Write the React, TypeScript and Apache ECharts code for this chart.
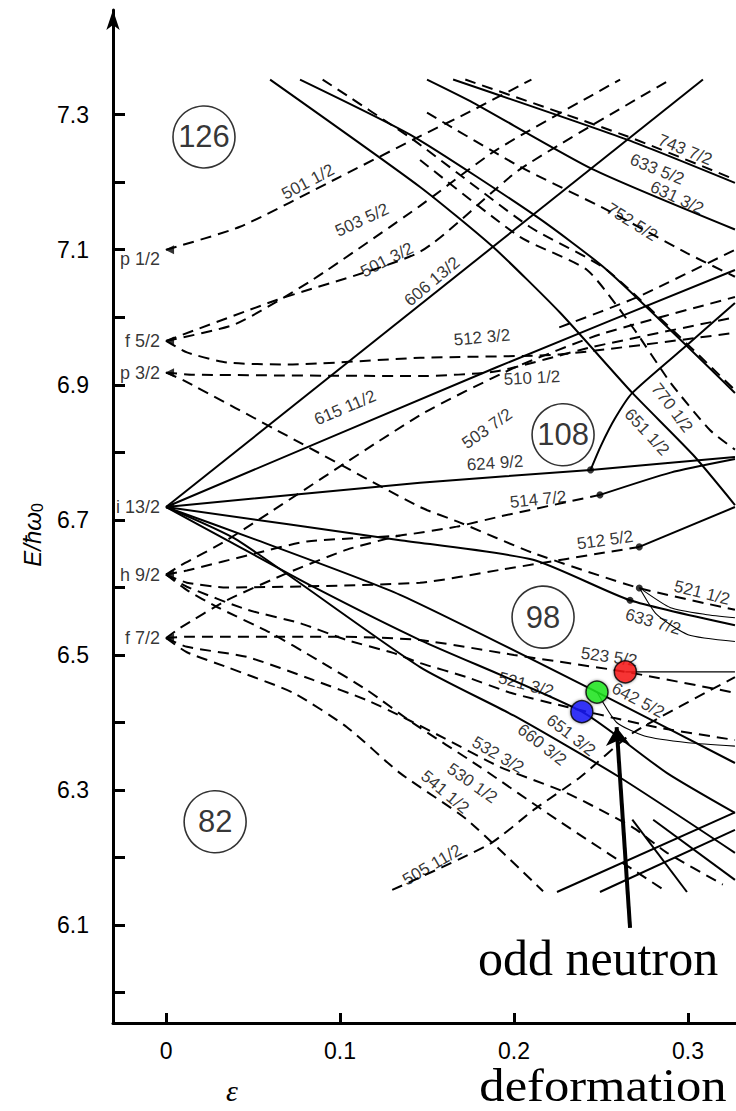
import React, { useEffect, useRef } from "react";
import * as echarts from "echarts";

// ---- axis ticks ----
const xTicks = [0, 0.1, 0.2, 0.3];
const yTicks = [6.0, 6.1, 6.2, 6.3, 6.4, 6.5, 6.6, 6.7, 6.8, 6.9, 7.0, 7.1, 7.2, 7.3];
const yLabels = [6.1, 6.3, 6.5, 6.7, 6.9, 7.1, 7.3];

// ---- spherical states at epsilon = 0 ----
const sphNames = ["p 1/2", "f 5/2", "p 3/2", "i 13/2", "h 9/2", "f 7/2"];
const sphE = [7.1, 6.965, 6.918, 6.719, 6.619, 6.525];

// ---- Nilsson levels: dashed (negative parity) ----
const d501_1 = [[0, 7.1], [0.0425, 7.134], [0.1, 7.208], [0.142, 7.263], [0.175, 7.305], [0.21, 7.352]];
const d503_5 = [[0, 6.965], [0.04, 6.99], [0.0845, 7.056], [0.146, 7.165], [0.19, 7.248], [0.261, 7.352]];
const d501_3 = [[0, 6.965], [0.064, 7.026], [0.146, 7.097], [0.2034, 7.219], [0.29, 7.352]];
const d512_3 = [[0, 6.965], [0.012, 6.948], [0.035, 6.933], [0.07, 6.93], [0.146, 6.94], [0.226, 6.945], [0.327, 6.977]];
const d510_1 = [[0, 6.918], [0.0155, 6.915], [0.146, 6.913], [0.19, 6.92], [0.245, 6.956], [0.327, 7.0]];
const d521_1 = [[0, 6.918], [0.0098, 6.907], [0.07, 6.824], [0.146, 6.719], [0.169, 6.696], [0.211, 6.651], [0.272, 6.599], [0.327, 6.567]];
const d503_7 = [[0, 6.619], [0.008, 6.632], [0.035, 6.67], [0.146, 6.855], [0.2, 6.925], [0.25, 6.975], [0.327, 7.03]];
const d514_7 = [[0, 6.619], [0.012, 6.625], [0.0523, 6.651], [0.081, 6.668], [0.1345, 6.677], [0.167, 6.69], [0.192, 6.705], [0.2494, 6.737]];
const dF7up = [[0, 6.525], [0.008, 6.54], [0.035, 6.581], [0.0695, 6.621], [0.104, 6.656], [0.1345, 6.677]];
const d512_5 = [[0, 6.619], [0.012, 6.607], [0.035, 6.6], [0.146, 6.607], [0.192, 6.626], [0.272, 6.66]];
const d523_5 = [[0, 6.525], [0.012, 6.527], [0.1, 6.527], [0.146, 6.522], [0.2, 6.5], [0.264, 6.475], [0.327, 6.444]];
const d521_3 = [[0, 6.619], [0.012, 6.601], [0.0466, 6.567], [0.077, 6.547], [0.104, 6.522], [0.1305, 6.503], [0.146, 6.488], [0.173, 6.467], [0.198, 6.444], [0.2305, 6.423], [0.257, 6.407], [0.284, 6.392], [0.327, 6.374]];
const d532_3 = [[0, 6.525], [0.012, 6.512], [0.0466, 6.497], [0.0845, 6.463], [0.1155, 6.433], [0.1345, 6.41], [0.159, 6.378], [0.192, 6.334], [0.23, 6.296], [0.268, 6.245], [0.288, 6.207], [0.32, 6.16]];
const d530_1 = [[0, 6.619], [0.012, 6.596], [0.0293, 6.571], [0.0598, 6.533], [0.0868, 6.493], [0.1155, 6.448], [0.142, 6.399], [0.18, 6.335], [0.2247, 6.256], [0.288, 6.149]];
const d541_1 = [[0, 6.525], [0.012, 6.504], [0.035, 6.482], [0.073, 6.444], [0.104, 6.393], [0.1345, 6.325], [0.173, 6.256], [0.2167, 6.15]];
const d505_11 = [[0.13, 6.152], [0.186, 6.22], [0.211, 6.27], [0.238, 6.319], [0.268, 6.384], [0.327, 6.467]];
const d770_1 = [[0.146, 7.233], [0.2034, 7.119], [0.242, 7.07], [0.268, 6.986], [0.29, 6.903], [0.3126, 6.833], [0.327, 6.804]];
const d752_5 = [[0.15, 7.303], [0.2034, 7.223], [0.2534, 7.159], [0.2994, 7.095], [0.327, 7.06]];
const d743_7 = [[0.172, 7.352], [0.265, 7.268], [0.327, 7.204]];
const dTop = [[0.09, 7.352], [0.142, 7.263], [0.209, 7.134], [0.2534, 7.07], [0.327, 6.892]];
const dUpper = [[0.226, 6.985], [0.271, 7.03], [0.327, 7.1]];

// ---- Nilsson levels: solid (positive parity) ----
const s606_13 = [[0, 6.719], [0.3086, 7.352]];
const s615_11 = [[0, 6.719], [0.19, 6.926], [0.327, 7.07]];
const s624_9 = [[0, 6.719], [0.146, 6.755], [0.244, 6.774], [0.327, 6.793]];
const s633_7 = [[0, 6.719], [0.1345, 6.67], [0.211, 6.641], [0.2667, 6.581], [0.327, 6.544]];
const s642_5 = [[0, 6.719], [0.0523, 6.67], [0.1345, 6.589], [0.2477, 6.445], [0.327, 6.34]];
const s651_3 = [[0, 6.719], [0.035, 6.67], [0.0845, 6.601], [0.146, 6.522], [0.239, 6.416], [0.288, 6.325], [0.327, 6.266]];
const s660_3 = [[0, 6.719], [0.041, 6.67], [0.146, 6.482], [0.2, 6.41], [0.26, 6.32], [0.327, 6.207]];
const s651_1 = [[0.0598, 7.352], [0.146, 7.193], [0.188, 7.104], [0.2264, 7.007], [0.268, 6.888], [0.303, 6.796], [0.327, 6.722]];
const sTop = [[0.077, 7.352], [0.142, 7.268], [0.213, 7.149], [0.2534, 7.07], [0.327, 6.888]];
const s631_3 = [[0.15, 7.352], [0.1764, 7.318], [0.2454, 7.219], [0.327, 7.13]];
const s633_5 = [[0.165, 7.352], [0.265, 7.263], [0.327, 7.199]];
const s514cont = [[0.2494, 6.737], [0.29, 6.77], [0.327, 6.79]];
const s512cont = [[0.272, 6.66], [0.327, 6.719]];
const s624curve = [[0.244, 6.774], [0.25, 6.81], [0.258, 6.85], [0.268, 6.888], [0.3, 6.96], [0.327, 7.021]];
const sUpA = [[0.2247, 6.149], [0.327, 6.267]];
const sUpB = [[0.2494, 6.149], [0.327, 6.241]];
const sDownC = [[0.268, 6.256], [0.2994, 6.149]];
const sDownD = [[0.28, 6.256], [0.327, 6.167]];
// thin interaction curves
const tRed = [[0.264, 6.475], [0.327, 6.475]];
const tGreen = [[0.2477, 6.445], [0.259, 6.4], [0.275, 6.38], [0.3, 6.37], [0.327, 6.365]];
const tC1 = [[0.272, 6.6], [0.282, 6.56], [0.3, 6.53], [0.327, 6.52]];
const tC2 = [[0.274, 6.596], [0.29, 6.57], [0.31, 6.56], [0.327, 6.555]];

const dashedLevels = [d501_1, d503_5, d501_3, d512_3, d510_1, d521_1, d503_7, d514_7, dF7up, d512_5, d523_5, d521_3, d532_3, d530_1, d541_1, d505_11, d770_1, d752_5, d743_7, dTop, dUpper];
const solidLevels = [s606_13, s615_11, s624_9, s633_7, s642_5, s651_3, s660_3, s651_1, sTop, s631_3, s633_5, s514cont, s512cont, s624curve, sUpA, sUpB, sDownC, sDownD];
const thinLevels = [tRed, tGreen, tC1, tC2];

// ---- level labels ----
const lvlNames = ["501 1/2", "503 5/2", "501 3/2", "606 13/2", "615 11/2", "512 3/2", "510 1/2", "503 7/2", "624 9/2", "514 7/2", "770 1/2", "651 1/2", "512 5/2", "521 1/2", "633 7/2", "523 5/2", "521 3/2", "642 5/2", "651 3/2", "660 3/2", "532 3/2", "530 1/2", "541 1/2", "505 11/2", "743 7/2", "633 5/2", "631 3/2", "752 5/2"];
const lvlEps = [0.0816, 0.1126, 0.127, 0.1529, 0.1029, 0.1816, 0.2103, 0.1845, 0.1891, 0.2138, 0.2908, 0.2764, 0.2523, 0.308, 0.2799, 0.2546, 0.2069, 0.2713, 0.2328, 0.2161, 0.1908, 0.1759, 0.1603, 0.1529, 0.2983, 0.2822, 0.2937, 0.2678];
const lvlE = [7.2007, 7.144, 7.085, 7.053, 6.866, 6.97, 6.91, 6.835, 6.784, 6.73, 6.866, 6.83, 6.67, 6.592, 6.549, 6.497, 6.456, 6.433, 6.381, 6.367, 6.352, 6.31, 6.297, 6.189, 7.248, 7.219, 7.177, 7.141];
const lvlRot = [28, 25, 27, 40, 23, 5, 3, 35, 4, 6, -53, -47, 8, -14, -16, -8, -15, -28, -38, -38, -30, -35, -40, 30, -22, -22, -25, -32];

// ---- shell gaps ----
const magicNum = ["126", "108", "98", "82"];
const magicEps = [0.0218, 0.2282, 0.2167, 0.0282];
const magicE = [7.267, 6.826, 6.556, 6.253];

// ---- crossing dots ----
const dotEps = [0.244, 0.2494, 0.272, 0.2667, 0.272];
const dotE = [6.774, 6.737, 6.66, 6.581, 6.599];

// ---- odd neutron states ----
const oddEps = [0.264, 0.2477, 0.239];
const oddE = [6.475, 6.445, 6.416];
const oddColors = ["#ff1a1a", "#22ee22", "#1a1aff"];

// ---- arrow ----
const arrowFrom = [0.2667, 6.096];
const arrowTo = [0.259, 6.393];

const INK = "#000";
const SANS = "'Liberation Sans', Arial, sans-serif";
const SERIF = "'Liberation Serif', 'Times New Roman', serif";

function lineSeries(pts: number[][], kind: "dashed" | "solid" | "thin") {
  return {
    type: "line",
    data: pts,
    showSymbol: false,
    symbol: "none",
    smooth: 0.2,
    silent: true,
    z: 2,
    lineStyle: {
      color: INK,
      width: kind === "thin" ? 1.1 : 2,
      type: kind === "dashed" ? [11, 7] : "solid",
    },
  };
}

const plainLabel = { color: INK, textBorderWidth: 0, textBorderColor: "transparent", textShadowBlur: 0 };

export default function App() {
  const ref = useRef<HTMLDivElement>(null);
  useEffect(() => {
    if (!ref.current) return;
    const chart = echarts.init(ref.current, null, { renderer: "svg" });
    const series: any[] = [];
    dashedLevels.forEach((p) => series.push(lineSeries(p, "dashed")));
    solidLevels.forEach((p) => series.push(lineSeries(p, "solid")));
    thinLevels.forEach((p) => series.push(lineSeries(p, "thin")));

    // spherical origins with arrowheads + labels
    series.push({
      type: "scatter",
      symbol: "triangle",
      symbolRotate: 90,
      symbolSize: 9,
      itemStyle: { color: INK },
      z: 4,
      data: sphE.map((e, i) => ({
        value: [0.002, e],
        label: {
          show: true,
          position: "left",
          distance: 5,
          formatter: sphNames[i],
          fontSize: 18,
          fontFamily: SANS,
          ...plainLabel,
          offset: [0, i === 0 ? 9 : 0],
        },
      })),
    });

    // level labels
    series.push({
      type: "scatter",
      symbolSize: 0,
      silent: true,
      z: 5,
      itemStyle: { color: INK },
      data: lvlNames.map((n, i) => ({
        value: [lvlEps[i], lvlE[i]],
        label: {
          show: true,
          position: "inside",
          formatter: n,
          rotate: lvlRot[i],
          fontSize: 17,
          fontFamily: SANS,
          ...plainLabel,
        },
      })),
    });

    // magic numbers
    series.push({
      type: "scatter",
      symbol: "circle",
      symbolSize: 62,
      z: 6,
      itemStyle: { color: "rgba(255,255,255,0)", borderColor: INK, borderWidth: 1.6 },
      data: magicNum.map((m, i) => ({
        value: [magicEps[i], magicE[i]],
        label: { show: true, position: "inside", formatter: m, fontSize: 31, fontFamily: SANS, ...plainLabel },
      })),
    });

    // crossing dots
    series.push({
      type: "scatter",
      symbolSize: 7,
      z: 6,
      itemStyle: { color: INK },
      data: dotEps.map((x, i) => [x, dotE[i]]),
    });

    // odd neutron states
    series.push({
      type: "scatter",
      symbolSize: 22,
      z: 8,
      itemStyle: { borderColor: "#000", borderWidth: 1.5, shadowBlur: 3, shadowColor: "rgba(0,0,0,0.5)" },
      data: oddEps.map((x, i) => ({ value: [x, oddE[i]], itemStyle: { color: oddColors[i] } })),
    });

    // arrow
    series.push({
      type: "lines",
      coordinateSystem: "cartesian2d",
      z: 9,
      symbol: ["none", "arrow"],
      symbolSize: 18,
      lineStyle: { color: "#000", width: 4, opacity: 1 },
      data: [{ coords: [arrowFrom, arrowTo] }],
    });

    chart.setOption({
      animation: false,
      backgroundColor: "#fff",
      grid: { left: 113, right: 0, top: 10, bottom: 88, containLabel: false, outerBoundsMode: "none" },
      xAxis: {
        type: "value",
        min: -0.0305,
        max: 0.3276,
        splitLine: { show: false },
        axisLine: { show: true, onZero: false, lineStyle: { color: INK, width: 3 } },
        axisTick: { show: true, inside: true, length: 10, lineStyle: { color: INK, width: 3 }, customValues: xTicks },
        axisLabel: {
          customValues: xTicks,
          formatter: (v: number) => (v === 0 ? "0" : v.toFixed(1)),
          fontSize: 23,
          fontFamily: SANS,
          color: INK,
          margin: 16,
        },
      },
      yAxis: {
        type: "value",
        min: 5.955,
        max: 7.455,
        splitLine: { show: false },
        axisLine: {
          show: true,
          onZero: false,
          symbol: ["none", "arrow"],
          symbolSize: [10, 20],
          lineStyle: { color: INK, width: 3 },
        },
        axisTick: { show: true, inside: true, length: 12, lineStyle: { color: INK, width: 3 }, customValues: yTicks },
        axisLabel: {
          customValues: yLabels,
          formatter: (v: number) => v.toFixed(1),
          fontSize: 23,
          fontFamily: SANS,
          color: INK,
          margin: 24,
        },
      },
      graphic: [
        {
          type: "text",
          x: 32,
          y: 535,
          rotation: Math.PI / 2,
          style: {
            text: "{i|E/ħω}{s|0}",
            align: "center",
            verticalAlign: "middle",
            rich: {
              i: { fontSize: 24, fontStyle: "italic", fontFamily: SANS, fill: INK },
              s: { fontSize: 16, fontFamily: SANS, fill: INK, padding: [10, 0, 0, 0] },
            },
          },
        },
        {
          type: "text",
          x: 598,
          y: 958,
          style: { text: "odd neutron", font: `50px ${SERIF}`, fill: "#000", align: "center", verticalAlign: "middle" },
        },
        {
          type: "text",
          x: 232,
          y: 1090,
          style: { text: "ε", font: `italic 30px ${SERIF}`, fill: "#000", align: "center", verticalAlign: "middle" },
        },
        {
          type: "text",
          x: 603,
          y: 1085,
          scaleX: 1.1,
          style: { text: "deformation", font: `46px ${SERIF}`, fill: "#000", align: "center", verticalAlign: "middle" },
        },
      ],
      series,
    });
    return () => chart.dispose();
  }, []);
  return <div ref={ref} style={{ position: "absolute", left: 0, top: 0, width: 736, height: 1111 }} />;
}
